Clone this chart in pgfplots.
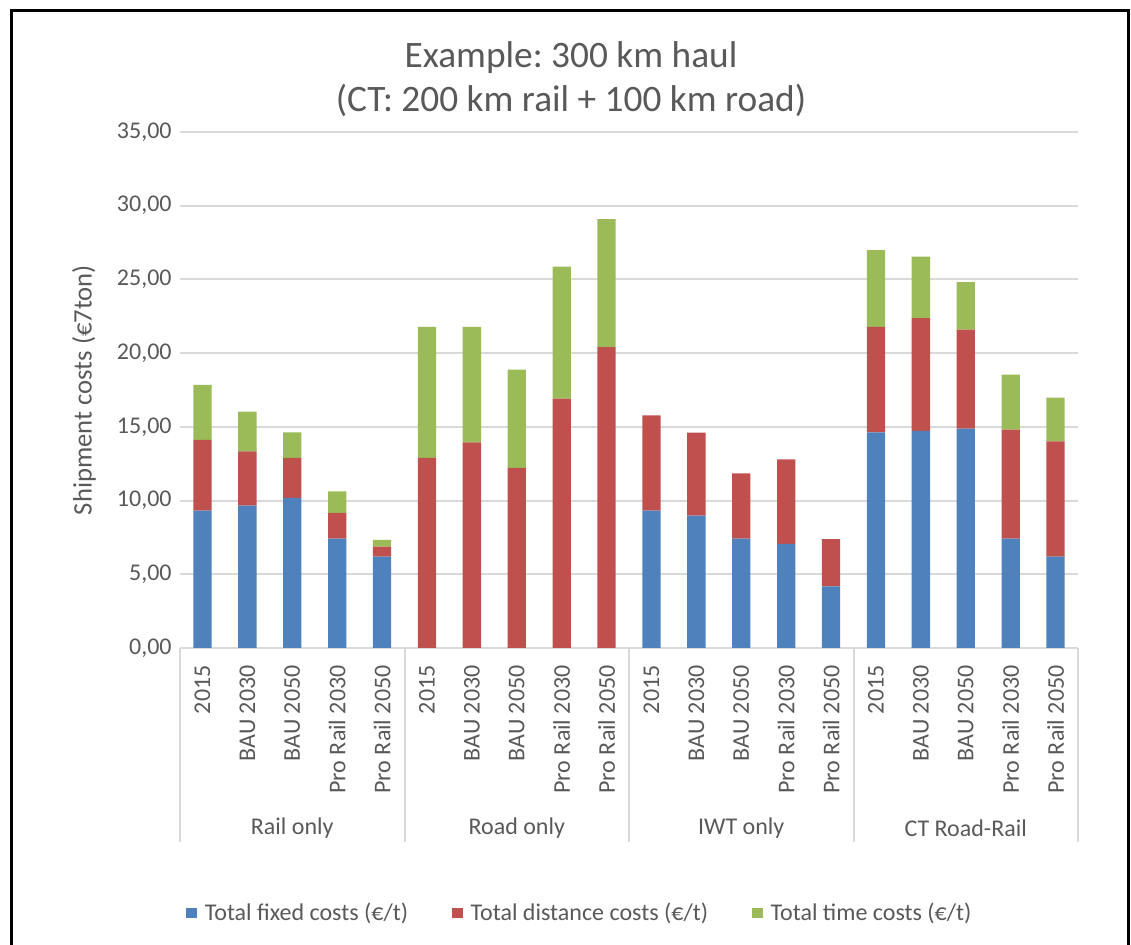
\documentclass[border=0pt]{standalone}
\usepackage{fontspec}
\setmainfont{Carlito}
\usepackage{pgfplots}
\usepackage{pgfplotstable}
\pgfplotsset{compat=1.18}
\frenchspacing
\definecolor{cblue}{HTML}{4F81BD}
\definecolor{cred}{HTML}{C0504D}
\definecolor{cgreen}{HTML}{9BBB59}
\definecolor{tgray}{HTML}{595959}
\definecolor{ggray}{HTML}{D9D9D9}
\pgfplotsset{sqleg/.style={legend image code/.code={\fill[##1] (0pt,-2.6pt) rectangle (5.2pt,2.6pt);}}}
\pgfplotstableread{
idx fixed dist time
0 9.32 4.79 3.74
1 9.65 3.69 2.69
2 10.19 2.71 1.73
3 7.41 1.75 1.47
4 6.19 0.68 0.47
5 0 12.90 8.88
6 0 13.95 7.83
7 0 12.22 6.66
8 0 16.92 8.94
9 0 20.40 8.69
10 9.32 6.45 0
11 8.97 5.63 0
12 7.41 4.44 0
13 7.06 5.74 0
14 4.18 3.20 0
15 14.63 7.15 5.21
16 14.72 7.66 4.16
17 14.88 6.71 3.22
18 7.41 7.40 3.74
19 6.19 7.83 2.97
}\costdata
\begin{document}
\frenchspacing
\begin{tikzpicture}
\path[use as bounding box] (0,0) rectangle (565.5pt,472.5pt);
\draw[line width=1.5pt] (5.5pt,-2pt) -- (5.5pt,467pt) -- (564pt,467pt) -- (564pt,-2pt);
\node[align=center, font=\fontsize{18.67}{22}\selectfont, text=tgray] at (285.5pt,433pt) {Example: 300 km haul\\(CT: 200 km rail + 100 km road)};
\begin{axis}[
  at={(90pt,148.5pt)}, anchor=south west,
  scale only axis, width=449pt, height=258pt,
  ybar stacked, bar width=9.15pt,
  xmin=-0.5, xmax=19.5, ymin=0, ymax=35,
  xtick={0,...,19},
  xticklabels={2015,BAU 2030,BAU 2050,Pro Rail 2030,Pro Rail 2050,2015,BAU 2030,BAU 2050,Pro Rail 2030,Pro Rail 2050,2015,BAU 2030,BAU 2050,Pro Rail 2030,Pro Rail 2050,2015,BAU 2030,BAU 2050,Pro Rail 2030,Pro Rail 2050},
  ytick={0,5,...,35},
  ymajorgrids, grid style={ggray, line width=1pt},
  axis line style={draw=none},
  tick style={draw=none},
  clip=false,
  tick label style={font=\fontsize{12}{14}\selectfont, text=tgray},
  xticklabel style={rotate=90, anchor=east, inner sep=0pt},
  xticklabel shift=8.5pt,
  yticklabel style={anchor=east, inner sep=0pt, xshift=-4pt, /pgf/number format/.cd, fixed, fixed zerofill, precision=2, use comma},
  /pgf/number format/assume math mode=true,
  ylabel={Shipment costs (€7ton)},
  ylabel style={at={(axis description cs:-0.107,0.5)}, anchor=center, font=\fontsize{13.33}{16}\selectfont, text=tgray},
  legend columns=3,
  legend style={at={(axis description cs:0.4465,-0.5136)}, anchor=center, draw=none, fill=none, font=\fontsize{12}{14}\selectfont, text=tgray, /tikz/every odd column/.append style={column sep=2pt}, /tikz/every even column/.append style={column sep=20pt}},
]
\addplot[fill=cblue, draw=none, sqleg] table[x=idx,y=fixed]{\costdata};
\addlegendentry{Total fixed costs (€/t)}
\addplot[fill=cred, draw=none, sqleg] table[x=idx,y=dist]{\costdata};
\addlegendentry{Total distance costs (€/t)}
\addplot[fill=cgreen, draw=none, sqleg] table[x=idx,y=time]{\costdata};
\addlegendentry{Total time costs (€/t)}
\draw[ggray, line width=1pt] (axis cs:-0.5,0) -- (axis cs:19.5,0);
\pgfplotsinvokeforeach{-0.5,4.5,9.5,14.5,19.5}{\draw[ggray, line width=1pt] (axis cs:#1,0) -- ++(0pt,-97pt);}
\node[font=\fontsize{12}{14}\selectfont, text=tgray, yshift=-90pt] at (axis cs:2,0) {Rail only};
\node[font=\fontsize{12}{14}\selectfont, text=tgray, yshift=-90pt] at (axis cs:7,0) {Road only};
\node[font=\fontsize{12}{14}\selectfont, text=tgray, yshift=-90pt] at (axis cs:12,0) {IWT only};
\node[font=\fontsize{12}{14}\selectfont, text=tgray, yshift=-90pt] at (axis cs:17,0) {CT Road-Rail};
\end{axis}
\end{tikzpicture}
\end{document}
